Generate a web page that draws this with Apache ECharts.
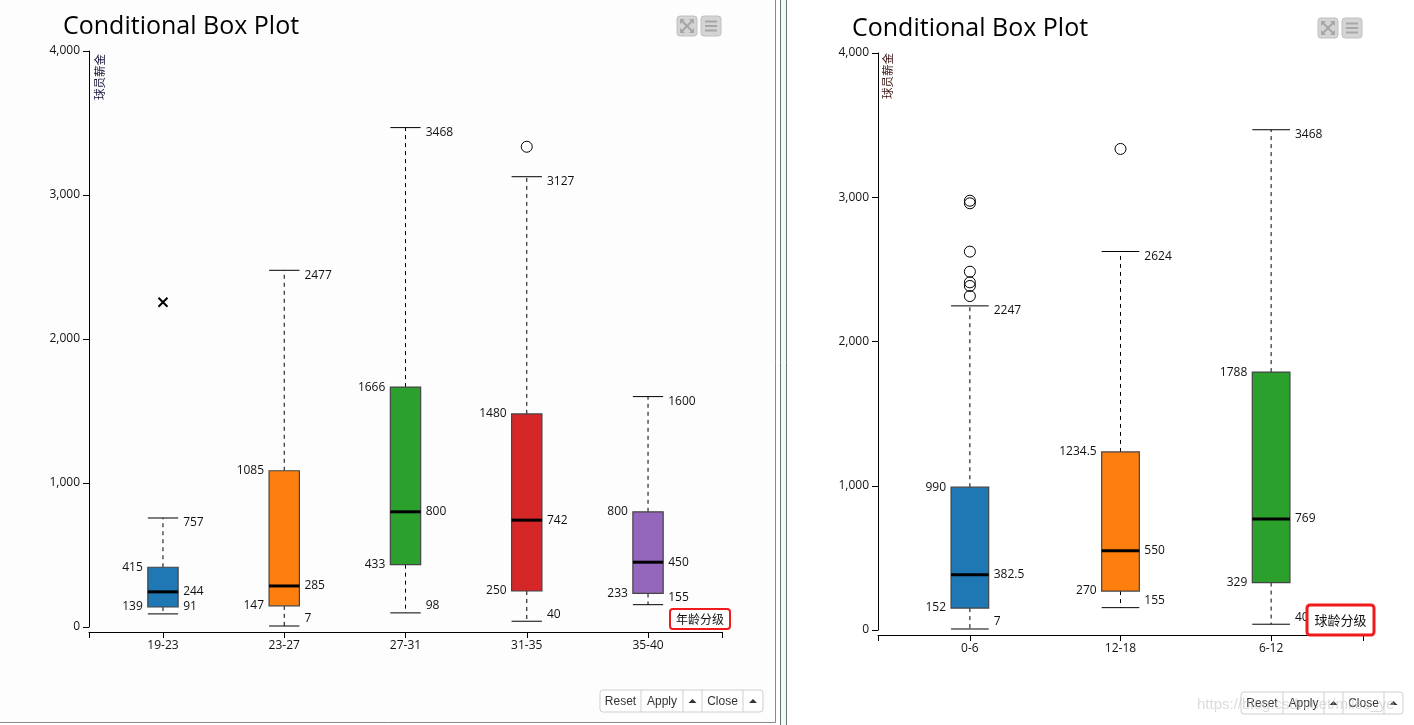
<!DOCTYPE html>
<html>
<head>
<meta charset="utf-8">
<script src="https://cdn.jsdelivr.net/npm/echarts@6.0.0/dist/echarts.min.js"></script>
<style>
html,body{margin:0;padding:0;background:#fff;}
#main{width:1414px;height:725px;}
</style>
</head>
<body>
<div id="main"></div>
<script>
// ---------- data ----------
const leftCategories = ['19-23', '23-27', '27-31', '31-35', '35-40'];
const leftLow    = [91, 7, 98, 40, 155];
const leftQ1     = [139, 147, 433, 250, 233];
const leftMedian = [244, 285, 800, 742, 450];
const leftQ3     = [415, 1085, 1666, 1480, 800];
const leftHigh   = [757, 2477, 3468, 3127, 1600];
const leftCircleOutliers = [[3, 3335]];
const leftCrossOutliers  = [[0, 2255]];

const rightCategories = ['0-6', '12-18', '6-12'];
const rightLow    = [7, 155, 40];
const rightQ1     = [152, 270, 329];
const rightMedian = [382.5, 550, 769];
const rightQ3     = [990, 1234.5, 1788];
const rightHigh   = [2247, 2624, 3468];
const rightCircleOutliers = [[0, 2976], [0, 2958], [0, 2623], [0, 2484], [0, 2410], [0, 2385], [0, 2315], [1, 3335]];

const yTickValues = [0, 1000, 2000, 3000, 4000];
const titleText = 'Conditional Box Plot';
const yName = '球员薪金';
const leftXName = '年龄分级';
const rightXName = '球龄分级';

// ---------- styles ----------
const palette = ['#1f77b4', '#ff7f0e', '#2ca02c', '#d62728', '#9467bd'];
const FONT = "'Open Sans','Noto Sans CJK SC',sans-serif";
const PAD = 0.61;

function boxData(cats, low, q1, med, q3, high) {
  return cats.map((c, i) => [i, low[i], q1[i], med[i], q3[i], high[i]]);
}

function renderBox(params, api) {
  const x = api.value(0);
  const pLow = api.coord([x, api.value(1)]);
  const pQ1 = api.coord([x, api.value(2)]);
  const pMed = api.coord([x, api.value(3)]);
  const pQ3 = api.coord([x, api.value(4)]);
  const pHigh = api.coord([x, api.value(5)]);
  const w = api.size([0.25, 0])[0];
  const cx = pLow[0], l = cx - w / 2, r = cx + w / 2;
  const color = palette[params.dataIndex % palette.length];
  const txt = (v, tx, ty, align) => ({
    type: 'text',
    style: { text: String(v), x: tx, y: ty, align: align, verticalAlign: 'middle',
             font: '12px ' + FONT, fill: '#111' }
  });
  const line = (x1, y1, x2, y2, dash, lw) => ({
    type: 'line',
    shape: { x1, y1, x2, y2 },
    style: { stroke: '#000', lineWidth: lw || 1, lineDash: dash ? [4, 4] : null }
  });
  return {
    type: 'group',
    children: [
      line(cx, pQ3[1], cx, pHigh[1], true),
      line(cx, pQ1[1], cx, pLow[1], true),
      line(l, pHigh[1], r, pHigh[1]),
      line(l, pLow[1], r, pLow[1]),
      {
        type: 'rect',
        shape: { x: l, y: pQ3[1], width: w, height: pQ1[1] - pQ3[1] },
        style: { fill: color, stroke: '#444', lineWidth: 1.2 }
      },
      line(l, pMed[1], r, pMed[1], false, 3),
      txt(api.value(4), l - 5, pQ3[1], 'right'),
      txt(api.value(2), l - 5, pQ1[1], 'right'),
      txt(api.value(3), r + 5, pMed[1], 'left'),
      txt(api.value(5), r + 5, pHigh[1] + 5, 'left'),
      txt(api.value(1), r + 5, pLow[1] - 7, 'left')
    ]
  };
}

function xAxisFor(idx, cats) {
  const n = cats.length;
  const ticks = [-PAD].concat(cats.map((c, i) => i)).concat([n - 1 + PAD]);
  return {
    type: 'value', gridIndex: idx, min: -PAD, max: n - 1 + PAD, offset: 5,
    axisLine: { show: true, onZero: false, lineStyle: { color: '#000', width: 1 } },
    axisTick: { show: true, length: 6, customValues: ticks, lineStyle: { color: '#000' } },
    axisLabel: { show: true, customValues: cats.map((c, i) => i), margin: 8,
                 formatter: v => cats[Math.round(v)], color: '#111', fontSize: 12, fontFamily: FONT },
    splitLine: { show: false }
  };
}
function yAxisFor(idx) {
  return {
    type: 'value', gridIndex: idx, min: 0, max: 4000, interval: 1000,
    axisLine: { show: true, onZero: false, lineStyle: { color: '#000', width: 1 } },
    axisTick: { show: true, length: 6, customValues: yTickValues, lineStyle: { color: '#000' } },
    axisLabel: { margin: 9, color: '#111', fontSize: 12, fontFamily: FONT, customValues: yTickValues,
                 formatter: v => v.toLocaleString('en-US') },
    splitLine: { show: false }
  };
}

function toolIcons(x, y) {
  const sq = (sx) => ({ type: 'rect', shape: { x: sx, y: y, width: 20, height: 20, r: 3 },
                        style: { fill: '#d4d4d4', stroke: '#c0c0c0', lineWidth: 1 } });
  const ln = (x1, y1, x2, y2, w) => ({ type: 'line', shape: { x1, y1, x2, y2 },
                        style: { stroke: '#a6a6a6', lineWidth: w } });
  const cx = x + 10, cy = y + 10;
  const hx = x + 24;
  return [
    sq(x), sq(x + 24),
    ln(cx - 6, cy - 6, cx + 6, cy + 6, 2), ln(cx + 6, cy - 6, cx - 6, cy + 6, 2),
    { type: 'polygon', shape: { points: [[cx - 7, cy - 7], [cx - 2, cy - 7], [cx - 7, cy - 2]] }, style: { fill: '#a6a6a6' } },
    { type: 'polygon', shape: { points: [[cx + 7, cy - 7], [cx + 2, cy - 7], [cx + 7, cy - 2]] }, style: { fill: '#a6a6a6' } },
    { type: 'polygon', shape: { points: [[cx - 7, cy + 7], [cx - 2, cy + 7], [cx - 7, cy + 2]] }, style: { fill: '#a6a6a6' } },
    { type: 'polygon', shape: { points: [[cx + 7, cy + 7], [cx + 2, cy + 7], [cx + 7, cy + 2]] }, style: { fill: '#a6a6a6' } },
    ln(hx + 4, y + 5.5, hx + 16, y + 5.5, 2),
    ln(hx + 4, y + 10, hx + 16, y + 10, 2),
    ln(hx + 4, y + 14.5, hx + 16, y + 14.5, 2)
  ];
}

function buttons(x, y, cells) {
  const h = 22;
  const total = cells.reduce((s, c) => s + c[1], 0);
  const els = [{ type: 'rect', z: 50, shape: { x: x, y: y, width: total, height: h, r: 3 },
                 style: { fill: '#fff', stroke: '#cfcfcf', lineWidth: 1 } }];
  let cx = x;
  cells.forEach((c, i) => {
    if (i > 0) els.push({ type: 'line', z: 51, shape: { x1: cx, y1: y, x2: cx, y2: y + h },
                          style: { stroke: '#cfcfcf', lineWidth: 1 } });
    if (c[0] === '^') {
      const mx = cx + c[1] / 2, my = y + h / 2;
      els.push({ type: 'polygon', z: 51, shape: { points: [[mx - 4, my + 2], [mx + 4, my + 2], [mx, my - 2]] },
                 style: { fill: '#333' } });
    } else {
      els.push({ type: 'text', z: 51, style: { text: c[0], x: cx + c[1] / 2, y: y + h / 2 + 0.5, align: 'center',
                 verticalAlign: 'middle', font: '12px Arial, "Liberation Sans", sans-serif', fill: '#333' } });
    }
    cx += c[1];
  });
  return els;
}

function redBox(x, y, w, h, text, fs, lw) {
  return [
    { type: 'rect', z: 60, shape: { x: x, y: y, width: w, height: h, r: 3 },
      style: { fill: '#fff', stroke: '#f21b1b', lineWidth: lw } },
    { type: 'text', z: 61, style: { text: text, x: x + w / 2, y: y + h / 2, align: 'center', verticalAlign: 'middle',
      font: fs + "px 'Noto Sans CJK SC', sans-serif", fill: '#111' } }
  ];
}

const chart = echarts.init(document.getElementById('main'), null, { renderer: 'canvas' });

const graphics = [
  { type: 'rect', z: -10, shape: { x: 0, y: 0, width: 775, height: 722 }, style: { fill: '#fdfdfd' } },
  { type: 'line', z: -9, shape: { x1: 775.5, y1: 0, x2: 775.5, y2: 722.5 }, style: { stroke: '#8a8a8a', lineWidth: 1 } },
  { type: 'line', z: -9, shape: { x1: 0, y1: 722.5, x2: 775.5, y2: 722.5 }, style: { stroke: '#8a8a8a', lineWidth: 1 } },
  { type: 'rect', z: -10, shape: { x: 781, y: 0, width: 5, height: 725 }, style: { fill: '#eef9fb' } },
  { type: 'line', z: -9, shape: { x1: 780.5, y1: 0, x2: 780.5, y2: 725 }, style: { stroke: '#6f6f6f', lineWidth: 1 } },
  { type: 'line', z: -9, shape: { x1: 786.5, y1: 0, x2: 786.5, y2: 725 }, style: { stroke: '#6f6f6f', lineWidth: 1 } },
  { type: 'text', rotation: Math.PI / 2, x: 100, y: 54, style: { text: yName, align: 'right', verticalAlign: 'middle',
    font: "11.5px 'Noto Sans CJK SC', sans-serif", fill: '#14143a' } },
  { type: 'text', rotation: Math.PI / 2, x: 888, y: 53, style: { text: yName, align: 'right', verticalAlign: 'middle',
    font: "11.5px 'Noto Sans CJK SC', sans-serif", fill: '#3a1414' } }
]
  .concat(toolIcons(677, 16))
  .concat(toolIcons(1318, 18))
  .concat(redBox(670, 609, 60, 20, leftXName, 12, 2))
  .concat(redBox(1307, 605, 67, 30, rightXName, 13, 3))
  .concat(buttons(600, 690, [['Reset', 41], ['Apply', 42], ['^', 19], ['Close', 41], ['^', 20]]))
  .concat(buttons(1241, 692, [['Reset', 42], ['Apply', 41], ['^', 19], ['Close', 41], ['^', 19]]))
  .concat([{ type: 'text', z: 70, style: { text: 'https://blog.csdn.net/miles_ye', x: 1197, y: 705, align: 'left',
    verticalAlign: 'middle', font: "15px Arial, sans-serif", fill: 'rgba(190,190,190,0.55)' } }]);

chart.setOption({
  animation: false,
  backgroundColor: '#ffffff',
  title: [
    { text: titleText, left: 58, top: 9, textStyle: { fontSize: 25, fontWeight: 'normal', color: '#000', fontFamily: FONT } },
    { text: titleText, left: 847, top: 11, textStyle: { fontSize: 25, fontWeight: 'normal', color: '#000', fontFamily: FONT } }
  ],
  grid: [
    { left: 89, top: 51, width: 633, height: 576 },
    { left: 878, top: 53, width: 485, height: 577 }
  ],
  xAxis: [xAxisFor(0, leftCategories), xAxisFor(1, rightCategories)],
  yAxis: [yAxisFor(0), yAxisFor(1)],
  series: [
    {
      type: 'custom', xAxisIndex: 0, yAxisIndex: 0, renderItem: renderBox,
      encode: { x: 0, y: [1, 2, 3, 4, 5] },
      data: boxData(leftCategories, leftLow, leftQ1, leftMedian, leftQ3, leftHigh), z: 3
    },
    {
      type: 'custom', xAxisIndex: 1, yAxisIndex: 1, renderItem: renderBox,
      encode: { x: 0, y: [1, 2, 3, 4, 5] },
      data: boxData(rightCategories, rightLow, rightQ1, rightMedian, rightQ3, rightHigh), z: 3
    },
    {
      type: 'scatter', xAxisIndex: 0, yAxisIndex: 0, symbol: 'circle', symbolSize: 11,
      itemStyle: { color: '#fff', borderColor: '#000', borderWidth: 1, opacity: 1 },
      data: leftCircleOutliers, z: 4
    },
    {
      type: 'scatter', xAxisIndex: 0, yAxisIndex: 0, symbol: 'path://M0,0L10,10M10,0L0,10', symbolSize: 9,
      itemStyle: { color: 'none', borderColor: '#000', borderWidth: 2, opacity: 1 },
      data: leftCrossOutliers, z: 4
    },
    {
      type: 'scatter', xAxisIndex: 1, yAxisIndex: 1, symbol: 'circle', symbolSize: 11,
      itemStyle: { color: 'rgba(255,255,255,0)', borderColor: '#000', borderWidth: 1, opacity: 1 },
      data: rightCircleOutliers, z: 4
    }
  ],
  graphic: { elements: graphics }
});
</script>
</body>
</html>
